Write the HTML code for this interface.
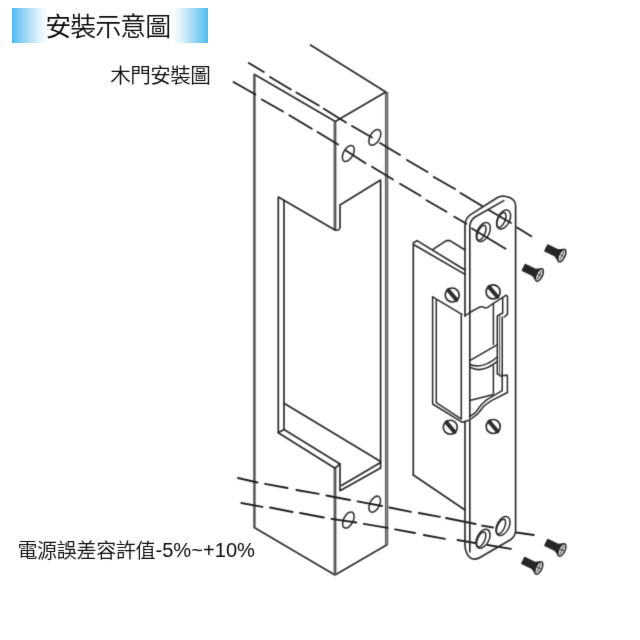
<!DOCTYPE html>
<html lang="zh-Hant">
<head>
<meta charset="utf-8">
<title>安裝示意圖</title>
<style>
html,body{margin:0;padding:0;background:#fff;}
body{width:640px;height:640px;position:relative;overflow:hidden;font-family:"Liberation Sans","Noto Sans CJK TC",sans-serif;color:#1a1a1a;}
.hdr{position:absolute;left:11.5px;top:7.6px;width:196px;height:35.1px;
 background:linear-gradient(to right,#4dbbf0 0px,#84cef4 9px,#b8e1f8 19px,#e2f3fc 28px,#ffffff 36px,#ffffff 161px,#e4f4fb 168px,#b6e0f6 177px,#7fceF0 187px,#54bdea 196px);}
svg{position:absolute;left:0;top:0;}
svg text{font-family:"Liberation Sans","Noto Sans CJK TC",sans-serif;fill:#0a0a0a;stroke:none;white-space:pre;}
</style>
</head>
<body>
<div class="hdr"></div>
<svg width="640" height="640" viewBox="0 0 640 640" fill="none" stroke="#282828" stroke-width="1.65" stroke-linecap="round" stroke-linejoin="round">
<defs><filter id="soft" x="0" y="0" width="640" height="640" filterUnits="userSpaceOnUse" color-interpolation-filters="sRGB"><feConvolveMatrix order="3" kernelMatrix="0 1 0 1 4 1 0 1 0" divisor="8" edgeMode="none"/></filter><filter id="soft2" x="0" y="0" width="640" height="640" filterUnits="userSpaceOnUse" color-interpolation-filters="sRGB"><feConvolveMatrix order="3" kernelMatrix="0 1 0 1 10 1 0 1 0" divisor="14" edgeMode="none"/></filter></defs>
<!-- TEXT -->
<g filter="url(#soft2)">
<text x="45.2" y="36.1" font-size="26" letter-spacing="-1" font-weight="350">安裝示意圖</text>
<text x="110.3" y="83.1" font-size="20.6" letter-spacing="-0.6" font-weight="350">木門安裝圖</text>
<text x="17.4" y="557.8" font-size="20" letter-spacing="-0.3" font-weight="350">電源誤差容許值<tspan font-size="20.1" letter-spacing="0" dx="0.2" dy="-0.5" font-weight="400">-5%~+10%</tspan></text>
</g>
<g filter="url(#soft)">
<!-- DOOR -->
<g id="door">
<path d="M254.2 74.3L335.3 121.5L385.8 92L310.5 45"/>
<path d="M254.2 527.5L335 575L386.5 545"/>
<g stroke="#555" stroke-width="2.5" stroke-linecap="butt">
<path d="M254.4 74.3V527.5"/>
<path d="M386.6 92V545.2" stroke-width="3.3"/>
<path d="M335 121.5V229.5M335 468V575" stroke-width="2.8" stroke="#5a5a5a"/>
</g>
<path d="M386.6 94V544" stroke="#bbb" stroke-width=".7"/>
<!-- cutout -->
<path d="M335 230L278.3 197V432.7L335 468.2"/>
<path d="M284 200.5V429.5L340 464V490.8L380.6 468V180L340 205V227.5Q339.5 231 335 230"/>
<path d="M284 403.2L380.6 461.5"/>
<path d="M341.5 485.5L380.6 462.5"/>
<path d="M278.3 432.7L284 429.5"/>
<path d="M335 468.2L340 464"/>
<!-- holes -->
<g stroke-width="1.5">
<ellipse cx="374.8" cy="137.4" rx="4.8" ry="8.7" transform="rotate(30 374.8 137.4)"/>
<ellipse cx="348.3" cy="153.5" rx="4.8" ry="8.7" transform="rotate(30 348.3 153.5)"/>
<ellipse cx="374.7" cy="504.2" rx="4.8" ry="8.7" transform="rotate(27 374.7 504.2)"/>
<ellipse cx="348.4" cy="520" rx="4.8" ry="8.7" transform="rotate(27 348.4 520)"/>
</g>
</g>

<!-- DASHED GUIDE LINES (top) -->
<g id="dash-top" stroke="#1c1c1c" stroke-width="1.8">
<path d="M248.8 63L263.8 72M270 77L290.8 89.5M296.3 92.5L318.8 105.5M323.8 108.8L346 122.5M352 126L372 137.5M380 143L400 155M407 160L427.5 172M433.8 177L455 189M460.5 193L482.5 206.3M488.8 210L511 223M517 227.5L531.3 236.3"/>
<g transform="translate(.5 .7)"><path d="M233 81.3L255 93.8M261.3 98.8L282.5 110.8M288.8 114.5L311.3 128M317 131.3L337.5 143.8M345 149.5L365 162.5M371.5 166L392.5 178.8M399.5 183L420 195M426 199.5L446 211M453.8 216L466 223M471.5 227.7L505 248"/></g>
</g>
<!-- DASHED GUIDE LINES (bottom) -->
<g id="dash-bot" stroke="#1c1c1c" stroke-width="1.8">
<path d="M238 478L257.5 482.5M265 483.8L287.5 488M296.3 490L318.8 493.8M326.3 495.5L350 500M357.5 501.3L382 506M389.4 507.5L411 511.8M418.8 513L440 516.8M446 518L475.6 524M482 525.6L493 527.5M516.3 532.5L533.8 535"/>
<path d="M241.3 503L262.5 506.8M270 507.5L292.5 512M300 513L323.8 517.5M331.3 518.8L356.3 522.5M363.8 523.8L387.5 527.8M395 529.4L415 533M423.8 535L445 538.8M457.5 540L475 543M487.5 545L511 548.8"/>
</g>
<!-- STRIKE BODY -->
<g id="body">
<path d="M413.3 475V243L417 240.6L465 270"/>
<path d="M414.4 245L465 274.4"/>
<path d="M433 249.4L446.3 240.6H450L465 250"/>
<path d="M413.3 475L465 510"/>
</g>
<!-- FACE PLATE -->
<g id="plate">
<path d="M465 316V225Q465.5 217.5 471 214.4L497.5 197.5Q501.5 195.5 505 196.3Q515.6 198 515.6 206V531Q515 537 510 540L480 557.5Q476 560 471.5 558.5Q465.5 555 465 546V421.5"/>
<path d="M469.8 418V226Q470.5 220 475 217L503.8 200.6"/>
<path d="M469.8 421.5V552"/>
</g>

<!-- PLATE HOLES -->
<g id="pholes" stroke-width="1.5">
<ellipse cx="483.3" cy="232" rx="6" ry="10.2" transform="rotate(27 483.3 232)"/>
<ellipse cx="481.4" cy="232.8" rx="3.6" ry="8" transform="rotate(24 481.4 232.8)"/>
<ellipse cx="503.6" cy="219.5" rx="6" ry="10.2" transform="rotate(27 503.6 219.5)"/>
<ellipse cx="501.4" cy="220" rx="3.6" ry="8" transform="rotate(24 501.4 220)"/>
<ellipse cx="483" cy="538.8" rx="6" ry="10.2" transform="rotate(27 483 538.8)"/>
<ellipse cx="481.2" cy="539.5" rx="3.6" ry="8" transform="rotate(24 481.2 539.5)"/>
<ellipse cx="503" cy="526" rx="6" ry="10.2" transform="rotate(27 503 526)"/>
<ellipse cx="501" cy="526.6" rx="3.6" ry="8" transform="rotate(24 501 526.6)"/>
</g>
<!-- SLOTTED SCREWS ON PLATE -->
<g id="sscrews">
<circle cx="452.2" cy="295" r="7"/><path d="M448.3 290.2L456.5 299.8" stroke-width="4"/><path d="M448.8 290.8L456 299.2" stroke="#666" stroke-width=".4"/>
<circle cx="493.1" cy="291.9" r="7"/><path d="M489.2 287.1L497.4 296.7" stroke-width="4"/><path d="M489.7 287.7L496.9 296.1" stroke="#666" stroke-width=".4"/>
<circle cx="450.3" cy="427.2" r="7"/><path d="M446.4 422.4L454.6 432" stroke-width="4"/><path d="M446.9 423L454.1 431.4" stroke="#666" stroke-width=".4"/>
<circle cx="493.2" cy="426.5" r="7"/><path d="M489.3 421.7L497.5 431.3" stroke-width="4"/><path d="M489.8 422.3L497 430.7" stroke="#666" stroke-width=".4"/>
</g>
<!-- KEEPER / CUTOUT -->
<g id="keeper" stroke-width="1.5">
<path d="M432.6 296.9V404L462.3 422.3L469.7 420"/>
<path d="M436.3 300V402.6L460.9 418.8"/>
<path d="M432.6 296.9L461.9 314.4"/>
<path d="M461.3 314.4V419"/>
<path d="M465 316L469.8 312.5L480 306.9Q483 306.5 485 308Q488 308.3 490 305.6L506.2 295.2L507.5 296.3V314.3L504.2 317"/>
<path d="M502.7 298.3V313L497.3 316V373.8"/>
<path d="M502.2 317V373.8"/>
<path d="M499.6 316.5V373.8" stroke-width="1.1" stroke="#555"/>
<path d="M493.4 304V344.5"/>
<path d="M469.8 360.6L497 344.8"/>
<path d="M469.8 364.5Q483 369.5 497 357.3"/>
<path d="M469.8 367.2Q482 374 497 361.7"/>
<path d="M502.2 375.6L507.4 375.3V392.5L491 400.8L484 406Q481 410 477.7 413.8L469.7 420"/>
<path d="M497.3 373.8L501.3 376.3M502.2 373.8V390.6L486.9 399.6L481.3 404.7Q478 409 475.6 412.4L469.7 416.6"/>
<path d="M493.4 366V394"/>
<path d="M469.7 400.5L492.5 394.8"/>
</g>
<!-- LOOSE SCREWS -->
<g id="lscrews">
<g transform="translate(561.9 255.6) rotate(26)"><path d="M-17.5 -3.5H-6L-1 -6.4V6.4L-6 3.5H-17.5Z" fill="#262626" stroke="#262626" stroke-width="1"/><ellipse cx="0" cy="0" rx="3" ry="6.8" fill="#f0f0f0" stroke="#262626" stroke-width="1.5"/><path d="M0 -4.5V4.5M-1.6 0H1.6" stroke="#444" stroke-width="1"/></g>
<g transform="translate(539.4 275) rotate(26)"><path d="M-17.5 -3.5H-6L-1 -6.4V6.4L-6 3.5H-17.5Z" fill="#262626" stroke="#262626" stroke-width="1"/><ellipse cx="0" cy="0" rx="3" ry="6.8" fill="#f0f0f0" stroke="#262626" stroke-width="1.5"/><path d="M0 -4.5V4.5M-1.6 0H1.6" stroke="#444" stroke-width="1"/></g>
<g transform="translate(561.9 550) rotate(26)"><path d="M-17.5 -3.5H-6L-1 -6.4V6.4L-6 3.5H-17.5Z" fill="#262626" stroke="#262626" stroke-width="1"/><ellipse cx="0" cy="0" rx="3" ry="6.8" fill="#f0f0f0" stroke="#262626" stroke-width="1.5"/><path d="M0 -4.5V4.5M-1.6 0H1.6" stroke="#444" stroke-width="1"/></g>
<g transform="translate(538.8 568) rotate(26)"><path d="M-17.5 -3.5H-6L-1 -6.4V6.4L-6 3.5H-17.5Z" fill="#262626" stroke="#262626" stroke-width="1"/><ellipse cx="0" cy="0" rx="3" ry="6.8" fill="#f0f0f0" stroke="#262626" stroke-width="1.5"/><path d="M0 -4.5V4.5M-1.6 0H1.6" stroke="#444" stroke-width="1"/></g>
</g>
</g>
</svg>
</body>
</html>
